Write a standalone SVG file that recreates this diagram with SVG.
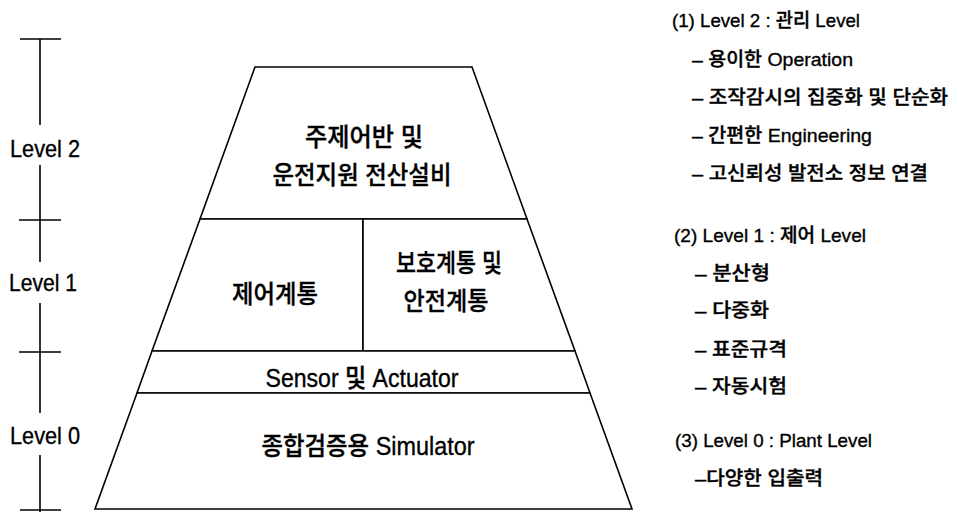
<svg xmlns="http://www.w3.org/2000/svg" width="958" height="512" viewBox="0 0 958 512">
<style>
.blk{fill:#fff;stroke:#000;stroke-width:1.6;stroke-linejoin:miter}
.ln{stroke:#000;stroke-width:1.6;fill:none}
.t{font-family:"Liberation Sans","Noto Sans CJK KR",sans-serif;fill:#000;stroke:#000;stroke-width:0.35}
.c{font-size:25px;text-anchor:middle;font-weight:500}
.lv{font-size:24px}
.r{font-size:19px;font-weight:500}
</style>
<rect width="958" height="512" fill="#fff"/>
<g id="scale">
<line class="ln" x1="40" y1="39" x2="40" y2="125"/>
<line class="ln" x1="20" y1="39" x2="61" y2="39"/>
<line class="ln" x1="40" y1="165" x2="40" y2="262"/>
<line class="ln" x1="19" y1="220" x2="61" y2="220"/>
<line class="ln" x1="40" y1="303" x2="40" y2="413"/>
<line class="ln" x1="19" y1="352" x2="61" y2="352"/>
<line class="ln" x1="40" y1="455" x2="40" y2="512"/>
<line class="ln" x1="20" y1="510" x2="61" y2="510"/>
<text class="t lv" x="10" y="157" textLength="70" lengthAdjust="spacingAndGlyphs">Level 2</text>
<text class="t lv" x="9" y="291" textLength="68" lengthAdjust="spacingAndGlyphs">Level 1</text>
<text class="t lv" x="10" y="444" textLength="70" lengthAdjust="spacingAndGlyphs">Level 0</text>
</g>
<g id="connectors"></g>
<g id="level2">
<polygon class="blk" points="255,67 472,67 527,219 200,219"/>
<text class="t c" x="364" y="146" textLength="118" lengthAdjust="spacingAndGlyphs">주제어반 및</text>
<text class="t c" x="362" y="184" textLength="179" lengthAdjust="spacingAndGlyphs">운전지원 전산설비</text>
</g>
<g id="control">
<polygon class="blk" points="200,219 363,219 363,351 152,351"/>
<text class="t c" x="275" y="303" textLength="86" lengthAdjust="spacingAndGlyphs">제어계통</text>
</g>
<g id="protection">
<polygon class="blk" points="363,219 527,219 575,351 363,351"/>
<text class="t c" x="449" y="272" textLength="106" lengthAdjust="spacingAndGlyphs">보호계통 및</text>
<text class="t c" x="446" y="310" textLength="85" lengthAdjust="spacingAndGlyphs">안전계통</text>
</g>
<g id="sensor">
<polygon class="blk" points="152,351 575,351 590,393 137,393"/>
<text class="t c" x="362" y="387" textLength="193" lengthAdjust="spacingAndGlyphs">Sensor 및 Actuator</text>
</g>
<g id="simulator">
<polygon class="blk" points="137,393 590,393 632,509 95,509"/>
<text class="t c" x="368" y="455" textLength="213" lengthAdjust="spacingAndGlyphs">종합검증용 Simulator</text>
</g>
<g id="notes">
<text class="t r" x="672" y="27" textLength="188" lengthAdjust="spacingAndGlyphs">(1) Level 2 : 관리 Level</text>
<text class="t r" x="692" y="66" textLength="161" lengthAdjust="spacingAndGlyphs">– 용이한 Operation</text>
<text class="t r" x="692" y="104" textLength="256" lengthAdjust="spacingAndGlyphs">– 조작감시의 집중화 및 단순화</text>
<text class="t r" x="692" y="142" textLength="180" lengthAdjust="spacingAndGlyphs">– 간편한 Engineering</text>
<text class="t r" x="692" y="180" textLength="236" lengthAdjust="spacingAndGlyphs">– 고신뢰성 발전소 정보 연결</text>
<text class="t r" x="674" y="242" textLength="192" lengthAdjust="spacingAndGlyphs">(2) Level 1 : 제어 Level</text>
<text class="t r" x="695" y="280" textLength="75" lengthAdjust="spacingAndGlyphs">– 분산형</text>
<text class="t r" x="695" y="317" textLength="74" lengthAdjust="spacingAndGlyphs">– 다중화</text>
<text class="t r" x="695" y="356" textLength="92" lengthAdjust="spacingAndGlyphs">– 표준규격</text>
<text class="t r" x="695" y="393" textLength="92" lengthAdjust="spacingAndGlyphs">– 자동시험</text>
<text class="t r" x="675" y="447" textLength="197" lengthAdjust="spacingAndGlyphs">(3) Level 0 : Plant Level</text>
<text class="t r" x="695" y="485" textLength="128" lengthAdjust="spacingAndGlyphs">–다양한 입출력</text>
</g>
</svg>
